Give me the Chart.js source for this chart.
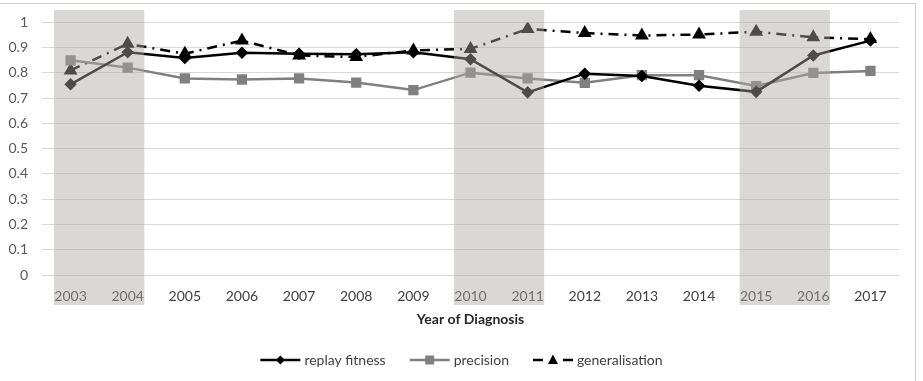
<!DOCTYPE html>
<html>
<head>
<meta charset="utf-8">
<script src="https://cdn.jsdelivr.net/npm/chart.js@4"></script>
<style>
  body { margin: 0; background: #fff; }
  #wrap { position: relative; width: 923px; height: 381px; overflow: hidden; }
  #frame { position: absolute; top: 3px; left: -2px; width: 916px; height: 400px; border: 1px solid #d0d0d0; }
  #chart { position: absolute; left: 0; top: 0; width: 923px; height: 381px; }
</style>
</head>
<body>
<div id="wrap">
  <div id="frame"></div>
  <div id="chart"><canvas id="c"></canvas></div>
</div>
<script>
// data
const years = ['2003', '2004', '2005', '2006', '2007', '2008', '2009', '2010', '2011', '2012', '2013', '2014', '2015', '2016', '2017'];
const replayFitness = [0.755, 0.882, 0.859, 0.880, 0.876, 0.874, 0.882, 0.854, 0.723, 0.797, 0.788, 0.749, 0.725, 0.869, 0.928];
const precision = [0.850, 0.821, 0.778, 0.774, 0.778, 0.762, 0.732, 0.801, 0.778, 0.761, 0.791, 0.791, 0.748, 0.800, 0.808];
const generalisation = [0.810, 0.915, 0.876, 0.928, 0.869, 0.863, 0.889, 0.895, 0.974, 0.958, 0.948, 0.952, 0.963, 0.941, 0.934];
const shadedPeriods = [['2003', '2004'], ['2010', '2011'], ['2015', '2016']];

const FONT = 'Lato, "Open Sans", sans-serif';
Chart.defaults.font.family = FONT;
Chart.defaults.font.size = 14;
Chart.defaults.color = '#595959';

// legend sample: short line with the marker in the middle
function drawSample(g, x, y, color, shape) {
    g.save();
    g.strokeStyle = color; g.fillStyle = color; g.lineWidth = 2.5;
    g.beginPath();
    if (shape === 'triangle') {
        g.moveTo(x, y); g.lineTo(x + 10, y);
        g.moveTo(x + 30, y); g.lineTo(x + 40, y);
    } else {
        g.moveTo(x, y); g.lineTo(x + 40, y);
    }
    g.stroke();
    g.beginPath();
    if (shape === 'diamond') {
        g.moveTo(x + 20, y - 4.5); g.lineTo(x + 24.5, y); g.lineTo(x + 20, y + 4.5); g.lineTo(x + 15.5, y);
    } else if (shape === 'square') {
        g.rect(x + 15.5, y - 4.5, 9, 9);
    } else {
        g.moveTo(x + 20, y - 5.5); g.lineTo(x + 25, y + 4); g.lineTo(x + 15, y + 4);
    }
    g.closePath(); g.fill();
    g.restore();
}

const legendPlugin = {
    id: 'sampleLegend',
    afterDraw(chart) {
        const ctx = chart.ctx;
        const shapes = ['diamond', 'square', 'triangle'];
        ctx.save();
        ctx.font = '14px ' + FONT;
        const gap = 24, sample = 40, sp = 4;
        const widths = chart.data.datasets.map(ds => sample + sp + ctx.measureText(ds.label).width);
        const total = widths.reduce((a, b) => a + b, 0) + gap * (widths.length - 1);
        let x = (chart.width - total) / 2;
        const y = 360;
        ctx.textBaseline = 'middle';
        chart.data.datasets.forEach((ds, i) => {
            drawSample(ctx, x, y, ds.borderColor, shapes[i]);
            ctx.fillStyle = '#404040';
            ctx.fillText(ds.label, x + sample + sp, y);
            x += widths[i] + gap;
        });
        ctx.restore();
    }
};

// grey bands laid over the chart, including the tick labels
const bandsPlugin = {
    id: 'bands',
    afterDraw(chart) {
        const x = chart.scales.x;
        const area = chart.chartArea;
        const step = x.getPixelForValue(1) - x.getPixelForValue(0);
        const ctx = chart.ctx;
        ctx.save();
        ctx.fillStyle = 'rgba(172,166,166,0.45)';
        shadedPeriods.forEach(([a, b]) => {
            const l = x.getPixelForValue(years.indexOf(a)) - step * 0.29;
            const r = x.getPixelForValue(years.indexOf(b)) + step * 0.29;
            ctx.fillRect(l, 10, r - l, area.bottom + 30 - 10);
        });
        ctx.restore();
    }
};

new Chart(document.getElementById('c'), {
    type: 'line',
    data: {
        labels: years,
        datasets: [
            {
                label: 'replay fitness', data: replayFitness,
                borderColor: '#000', backgroundColor: '#000', borderWidth: 2.5,
                pointStyle: 'rectRot', pointRadius: 4.5, pointHoverRadius: 4.5, tension: 0
            },
            {
                label: 'precision', data: precision,
                borderColor: '#808080', backgroundColor: '#808080', borderWidth: 2.5,
                pointStyle: 'rect', pointRadius: 5.5, pointHoverRadius: 5.5, tension: 0
            },
            {
                label: 'generalisation', data: generalisation,
                borderColor: '#000', backgroundColor: '#000', borderWidth: 2.5,
                borderDash: [10, 6, 2, 6],
                pointStyle: 'triangle', pointRadius: 5.5, pointHoverRadius: 5.5, tension: 0
            }
        ]
    },
    options: {
        responsive: true,
        maintainAspectRatio: false,
        animation: false,
        layout: { padding: { top: 18, right: 24, left: 0, bottom: 50 } },
        scales: {
            x: {
                offset: true,
                afterFit(scale) { scale.height = 56; },
                grid: { display: false, drawTicks: false },
                border: { display: false },
                ticks: { padding: 13, color: '#404040', maxRotation: 0 },
                title: { display: true, text: 'Year of Diagnosis', color: '#262626', font: { weight: 'bold', size: 14 }, padding: { top: 0, bottom: 3 } }
            },
            y: {
                min: 0, max: 1,
                afterFit(scale) { scale.width = 42; },
                grid: { color: '#d9d9d9', drawTicks: false, lineWidth: 1 },
                border: { display: false },
                ticks: { stepSize: 0.1, padding: 14, color: '#595959', callback: v => +v.toFixed(1) }
            }
        },
        plugins: {
            tooltip: { enabled: false },
            legend: { display: false }
        }
    },
    plugins: [bandsPlugin, legendPlugin]
});
</script>
</body>
</html>
